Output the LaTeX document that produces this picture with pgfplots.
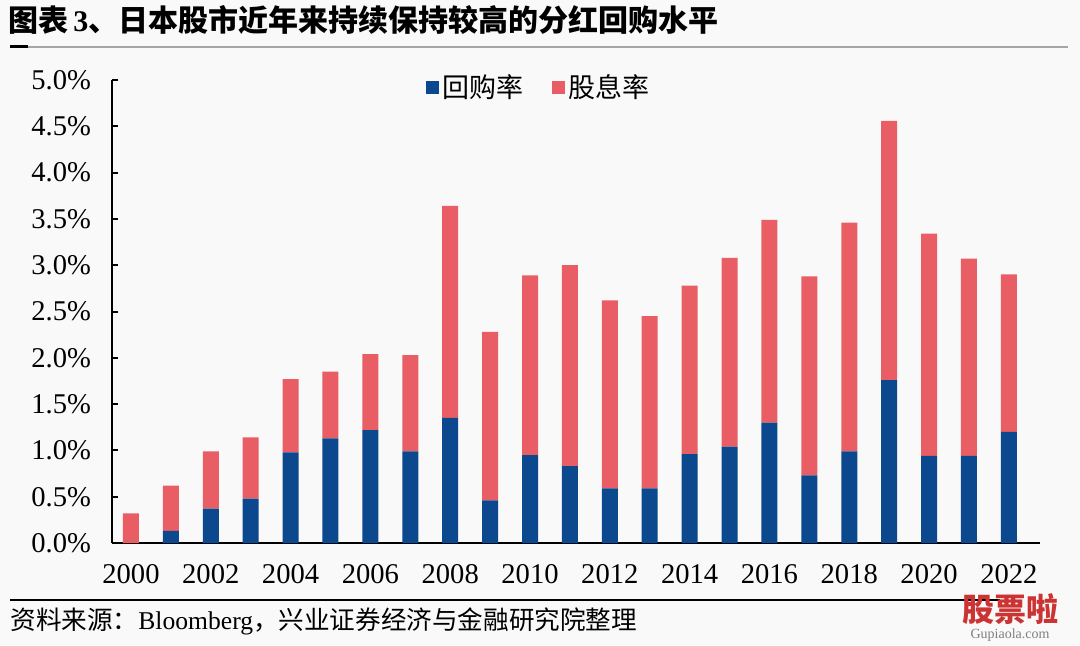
\documentclass[border=0pt]{standalone}
\usepackage{fontspec}
\setmainfont{Liberation Serif}
\newfontfamily\cjk{Noto Sans CJK SC}
\usepackage{pgfplots}
\pgfplotsset{compat=1.18}
\definecolor{buyb}{RGB}{11,72,142}
\definecolor{divd}{RGB}{232,94,100}
\definecolor{bgc}{RGB}{249,249,249}
\begin{document}
\begin{tikzpicture}
\fill[bgc] (0,0) rectangle (540pt,322.5pt);
\node[anchor=west,inner sep=0pt] at (4pt,312.5pt) {\fontsize{15pt}{18pt}\selectfont\cjk\bfseries 图表\,{\rmfamily\bfseries 3}、日本股市近年来持续保持较高的分红回购水平};
\draw[gray!70,line width=1.2pt] (5pt,299pt) -- (534pt,299pt);
\draw[black,line width=1.2pt] (5pt,299.2pt) -- (14pt,299.2pt);
\draw[black,line width=0.8pt] (5pt,22.5pt) -- (500pt,22.5pt);
\node[anchor=west,inner sep=0pt] at (5pt,12pt) {\fontsize{12.8pt}{15pt}\selectfont{\cjk 资料来源：}Bloomberg{\cjk ，兴业证券经济与金融研究院整理}};
\node[anchor=center,inner sep=0pt,text=red!60!gray] at (505pt,18pt) {\fontsize{16pt}{18pt}\selectfont\cjk\bfseries 股票啦};
\node[anchor=center,inner sep=0pt,text=gray] at (505pt,5pt) {\fontsize{7pt}{8pt}\selectfont Gupiaola.com};
\begin{axis}[
  at={(56pt,51pt)}, anchor=origin,
  scale only axis, width=464pt, height=231.5pt,
  ybar stacked, bar width=8pt,
  xmin=1999.525, xmax=2022.78,
  ymin=0, ymax=5,
  axis x line=bottom, axis y line=left,
  axis line style={black,line width=1.1pt,-},
  xtick={2000,2002,...,2022},
  xticklabel style={/pgf/number format/1000 sep={}},
  x tick label style={yshift=-7pt},
  major x tick style={draw=none},
  ytick={0,0.5,...,5},
  yticklabel={\pgfmathprintnumber[fixed,fixed zerofill,precision=1]{\tick}\%},
  /pgf/number format/assume math mode=true,
  ytick style={black,line width=1pt},
  major tick length=3pt,
  tick align=inside,
  tick label style={font=\fontsize{14.3pt}{16pt}\selectfont},
  yticklabel style={xshift=-7pt},
  legend style={at={(0.461,0.983)},anchor=center,draw=none,fill=none,
    legend columns=2, font=\fontsize{13.5pt}{15pt}\selectfont\cjk,
    /tikz/every even column/.append style={column sep=12pt}},
  legend image code/.code={\fill[#1] (0pt,-3.2pt) rectangle (6.4pt,3.2pt);},
]
\addplot[fill=buyb,draw=none] coordinates {
(2000,0) (2001,0.13) (2002,0.37) (2003,0.48) (2004,0.98) (2005,1.13) (2006,1.22) (2007,0.99) (2008,1.35) (2009,0.46) (2010,0.95) (2011,0.83) (2012,0.59) (2013,0.59) (2014,0.96) (2015,1.04) (2016,1.30) (2017,0.73) (2018,0.99) (2019,1.76) (2020,0.94) (2021,0.94) (2022,1.20)};
\addplot[fill=divd,draw=none] coordinates {
(2000,0.32) (2001,0.49) (2002,0.62) (2003,0.66) (2004,0.79) (2005,0.72) (2006,0.82) (2007,1.04) (2008,2.29) (2009,1.82) (2010,1.94) (2011,2.17) (2012,2.03) (2013,1.86) (2014,1.82) (2015,2.04) (2016,2.19) (2017,2.15) (2018,2.47) (2019,2.80) (2020,2.40) (2021,2.13) (2022,1.70)};
\legend{回购率,股息率}
\end{axis}
\end{tikzpicture}
\end{document}
